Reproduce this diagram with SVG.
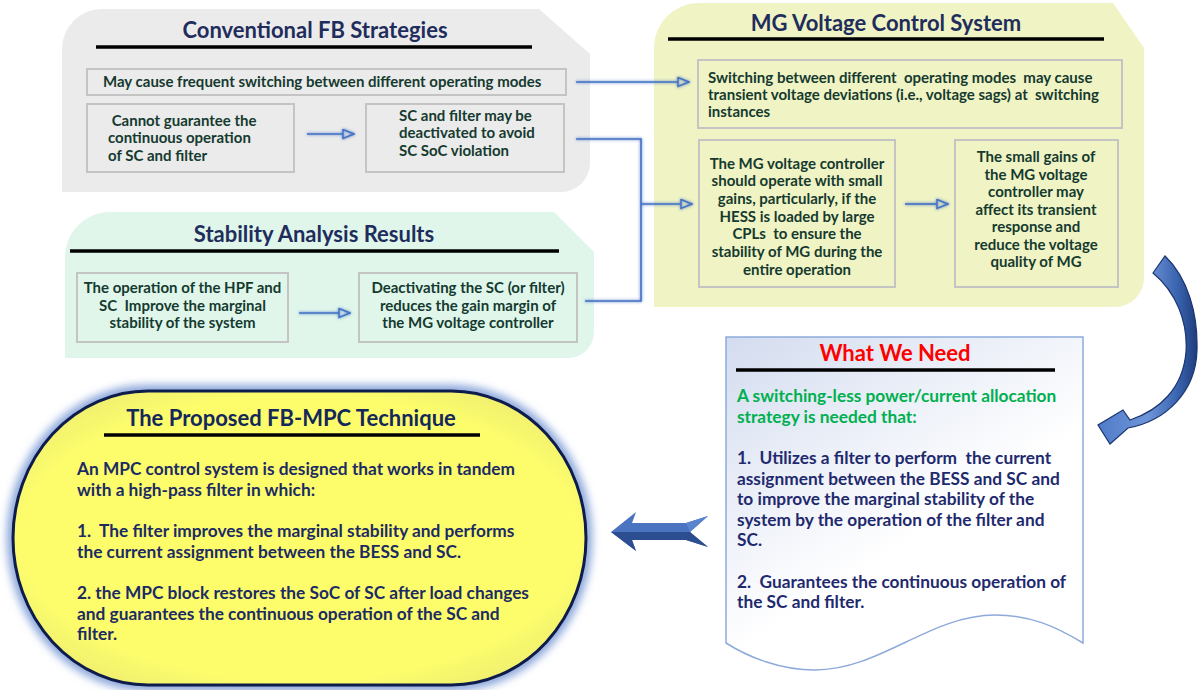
<svg xmlns="http://www.w3.org/2000/svg" width="1198" height="690" viewBox="0 0 1198 690">
<defs>
<style>
.t{font-family:Lato,"Open Sans","Liberation Sans",sans-serif;font-weight:700;white-space:pre}
.title{font-size:22px;fill:#1f2d5c;text-anchor:middle}
.bx{fill:none;stroke:#c4c4c4;stroke-width:2}
.bt{font-size:15px;fill:#153a2f}
.c{text-anchor:middle}
.ul{stroke:#000;stroke-width:3.5}
.conn{fill:none;stroke:#4472c4;stroke-width:1.6}
.pb{font-size:17.3px;fill:#1c2b63}
.wb{font-size:17.3px;fill:#1f2a6e}
.wg{font-size:17.3px;fill:#00b050}
</style>
<marker id="ah" markerUnits="userSpaceOnUse" markerWidth="13" markerHeight="11" viewBox="0 0 13 11" refX="1" refY="5.5" orient="auto">
<path d="M1,1 L12,5.5 L1,10 Z" fill="none" stroke="#4472c4" stroke-width="1.5"/>
</marker>
<filter id="glow" filterUnits="userSpaceOnUse" x="0" y="0" width="1198" height="690">
<feGaussianBlur in="SourceGraphic" stdDeviation="1.6" result="b"/>
<feMerge><feMergeNode in="b"/><feMergeNode in="SourceGraphic"/></feMerge>
</filter>
<filter id="halo" filterUnits="userSpaceOnUse" x="0" y="360" width="620" height="330">
<feGaussianBlur stdDeviation="4"/>
</filter>
<linearGradient id="wwn" x1="0" y1="0" x2="0.7" y2="1">
<stop offset="0" stop-color="#d3dcef"/>
<stop offset="0.65" stop-color="#ffffff"/>
</linearGradient>
<radialGradient id="yel" cx="0.5" cy="0.5" r="0.6">
<stop offset="0.8" stop-color="#fdfd6c"/>
<stop offset="1" stop-color="#eeee70"/>
</radialGradient>
<linearGradient id="curv" x1="0" y1="0" x2="1" y2="0">
<stop offset="0" stop-color="#4f7bc8"/>
<stop offset="0.5" stop-color="#6f95d8"/>
<stop offset="0.8" stop-color="#3a64b0"/>
<stop offset="1" stop-color="#1f3d7c"/>
</linearGradient>
</defs>

<rect width="1198" height="690" fill="#ffffff"/>

<!-- Conventional FB Strategies panel -->
<g id="panel-conventional">
<path d="M62,49 A40,40 0 0 1 102,9 H539 L590,54 V163 A29,29 0 0 1 561,192 H62 Z" fill="#ebebeb"/>
<text class="t title" x="315" y="38">Conventional FB Strategies</text>
<line class="ul" x1="96" y1="47" x2="532" y2="47"/>
<g id="box-frequent-switching">
<rect class="bx" x="87" y="69" width="479" height="26"/>
<text class="t bt" x="103" y="87">May cause frequent switching between different operating modes</text>
</g>
<g id="box-cannot-guarantee">
<rect class="bx" x="87" y="104" width="207" height="68"/>
<text class="t bt" x="108" y="125.5"> Cannot guarantee the</text>
<text class="t bt" x="108" y="143">continuous operation</text>
<text class="t bt" x="108" y="160.5">of SC and filter</text>
</g>
<g id="box-deactivated">
<rect class="bx" x="366" y="104" width="198" height="68"/>
<text class="t bt" x="399" y="120.5">SC and filter may be</text>
<text class="t bt" x="399" y="138">deactivated to avoid</text>
<text class="t bt" x="399" y="155.5">SC SoC violation</text>
</g>
</g>

<!-- Stability Analysis Results panel -->
<g id="panel-stability">
<path d="M65,257 A45,45 0 0 1 110,212 H554 L594,252 V332 A26,26 0 0 1 568,358 H65 Z" fill="#e0f6eb"/>
<text class="t title" x="314" y="242">Stability Analysis Results</text>
<line class="ul" x1="70" y1="251" x2="559" y2="251"/>
<g id="box-hpf-sc">
<rect class="bx" x="77" y="273" width="211" height="69"/>
<text class="t bt c" x="182.5" y="293">The operation of the HPF and</text>
<text class="t bt c" x="182.5" y="310.5">SC  Improve the marginal</text>
<text class="t bt c" x="182.5" y="328">stability of the system</text>
</g>
<g id="box-deactivating">
<rect class="bx" x="359" y="273" width="218" height="69"/>
<text class="t bt c" x="468" y="293">Deactivating the SC (or filter)</text>
<text class="t bt c" x="468" y="310.5">reduces the gain margin of</text>
<text class="t bt c" x="468" y="328">the MG voltage controller</text>
</g>
</g>

<!-- MG Voltage Control System panel -->
<g id="panel-mg">
<path d="M654,48 A45,45 0 0 1 699,3 H1113 L1144,48 V278 A29,29 0 0 1 1115,307 H654 Z" fill="#f0f3c4"/>
<text class="t title" x="886" y="31">MG Voltage Control System</text>
<line class="ul" x1="668" y1="39" x2="1104" y2="39"/>
<g id="box-transient">
<rect class="bx" x="698" y="60" width="424" height="68"/>
<text class="t bt" x="708" y="83">Switching between different  operating modes  may cause</text>
<text class="t bt" x="708" y="100">transient voltage deviations (i.e., voltage sags) at  switching</text>
<text class="t bt" x="708" y="117">instances</text>
</g>
<g id="box-small-gains">
<rect class="bx" x="699" y="140" width="196" height="147"/>
<text class="t bt c" x="797" y="168.5">The MG voltage controller</text>
<text class="t bt c" x="797" y="186.2">should operate with small</text>
<text class="t bt c" x="797" y="203.9">gains, particularly, if the</text>
<text class="t bt c" x="797" y="221.6">HESS is loaded by large</text>
<text class="t bt c" x="797" y="239.3">CPLs  to ensure the</text>
<text class="t bt c" x="797" y="257">stability of MG during the</text>
<text class="t bt c" x="797" y="274.7">entire operation</text>
</g>
<g id="box-affect">
<rect class="bx" x="955" y="140" width="163" height="147"/>
<text class="t bt c" x="1036" y="162">The small gains of</text>
<text class="t bt c" x="1036" y="179.5">the MG voltage</text>
<text class="t bt c" x="1036" y="197">controller may</text>
<text class="t bt c" x="1036" y="214.5">affect its transient</text>
<text class="t bt c" x="1036" y="232">response and</text>
<text class="t bt c" x="1036" y="249.5">reduce the voltage</text>
<text class="t bt c" x="1036" y="267">quality of MG</text>
</g>
</g>

<!-- What We Need -->
<g id="node-what-we-need">
<path d="M726,337 H1083 V643 C1055,626 1030,615 995,615 C930,615 880,670 815,670 C780,670 748,657 726,643 Z" fill="url(#wwn)" stroke="#8eaadb" stroke-width="1.5"/>
<text class="t" x="895" y="361" font-size="22" fill="#ff0000" text-anchor="middle">What We Need</text>
<line class="ul" x1="736" y1="370" x2="1055" y2="370"/>
<text class="t wg" x="737" y="402">A switching-less power/current allocation</text>
<text class="t wg" x="737" y="422.5">strategy is needed that:</text>
<text class="t wb" x="737" y="464">1.  Utilizes a filter to perform  the current</text>
<text class="t wb" x="737" y="484.6">assignment between the BESS and SC and</text>
<text class="t wb" x="737" y="505.2">to improve the marginal stability of the</text>
<text class="t wb" x="737" y="525.8">system by the operation of the filter and</text>
<text class="t wb" x="737" y="546.4">SC.</text>
<text class="t wb" x="737" y="587.5">2.  Guarantees the continuous operation of</text>
<text class="t wb" x="737" y="608">the SC and filter.</text>
</g>

<!-- Proposed FB-MPC Technique -->
<g id="node-proposed">
<rect x="13" y="391" width="573" height="294" rx="135" ry="147" fill="none" stroke="#86a3d9" stroke-width="12" filter="url(#halo)"/>
<rect x="13" y="391" width="573" height="294" rx="135" ry="147" fill="url(#yel)" stroke="#0e1c4c" stroke-width="3"/>
<text class="t" x="291" y="426" font-size="22" fill="#14285a" text-anchor="middle">The Proposed FB-MPC Technique</text>
<line class="ul" x1="104" y1="435" x2="480" y2="435"/>
<text class="t pb" x="77" y="475">An MPC control system is designed that works in tandem</text>
<text class="t pb" x="77" y="496">with a high-pass filter in which:</text>
<text class="t pb" x="77" y="537">1.  The filter improves the marginal stability and performs</text>
<text class="t pb" x="77" y="557.5">the current assignment between the BESS and SC.</text>
<text class="t pb" x="77" y="599">2. the MPC block restores the SoC of SC after load changes</text>
<text class="t pb" x="77" y="619.5">and guarantees the continuous operation of the SC and</text>
<text class="t pb" x="77" y="640">filter.</text>
</g>

<!-- Connectors -->
<g id="connectors">
<g filter="url(#glow)">
<path class="conn" d="M576,82 H678" marker-end="url(#ah)"/>
<path class="conn" d="M576,139 H641 V301 H585"/>
<path class="conn" d="M641,204 H681" marker-end="url(#ah)"/>
<path class="conn" d="M307,134 H343" marker-end="url(#ah)"/>
<path class="conn" d="M299,313 H339" marker-end="url(#ah)"/>
<path class="conn" d="M905,204 H937" marker-end="url(#ah)"/>
</g>
<g id="curved-arrow">
<path d="M1153,273 L1165,256 C1188,278 1198,314 1197,350 C1196,392 1166,421 1128,428 L1110,444 L1098,425 L1123,410 L1130,420 C1160,410 1183,388 1186,352 C1188,322 1176,292 1153,273 Z" fill="url(#curv)" stroke="#1a3570" stroke-width="1.2"/>
</g>
<g id="double-arrow">
<path d="M611,532 L636,512 L632,523 L686,523 L708,516 L690,532 L708,547 L686,540 L632,540 L636,551 Z" fill="#4a73c0"/>
<path d="M611,532 L690,532 L708,547 L686,540 L632,540 L636,551 Z" fill="#2c4d90"/>
<path d="M686,523 L708,516 L690,532 Z" fill="#5b84cf"/>
</g>
</g>
</svg>
